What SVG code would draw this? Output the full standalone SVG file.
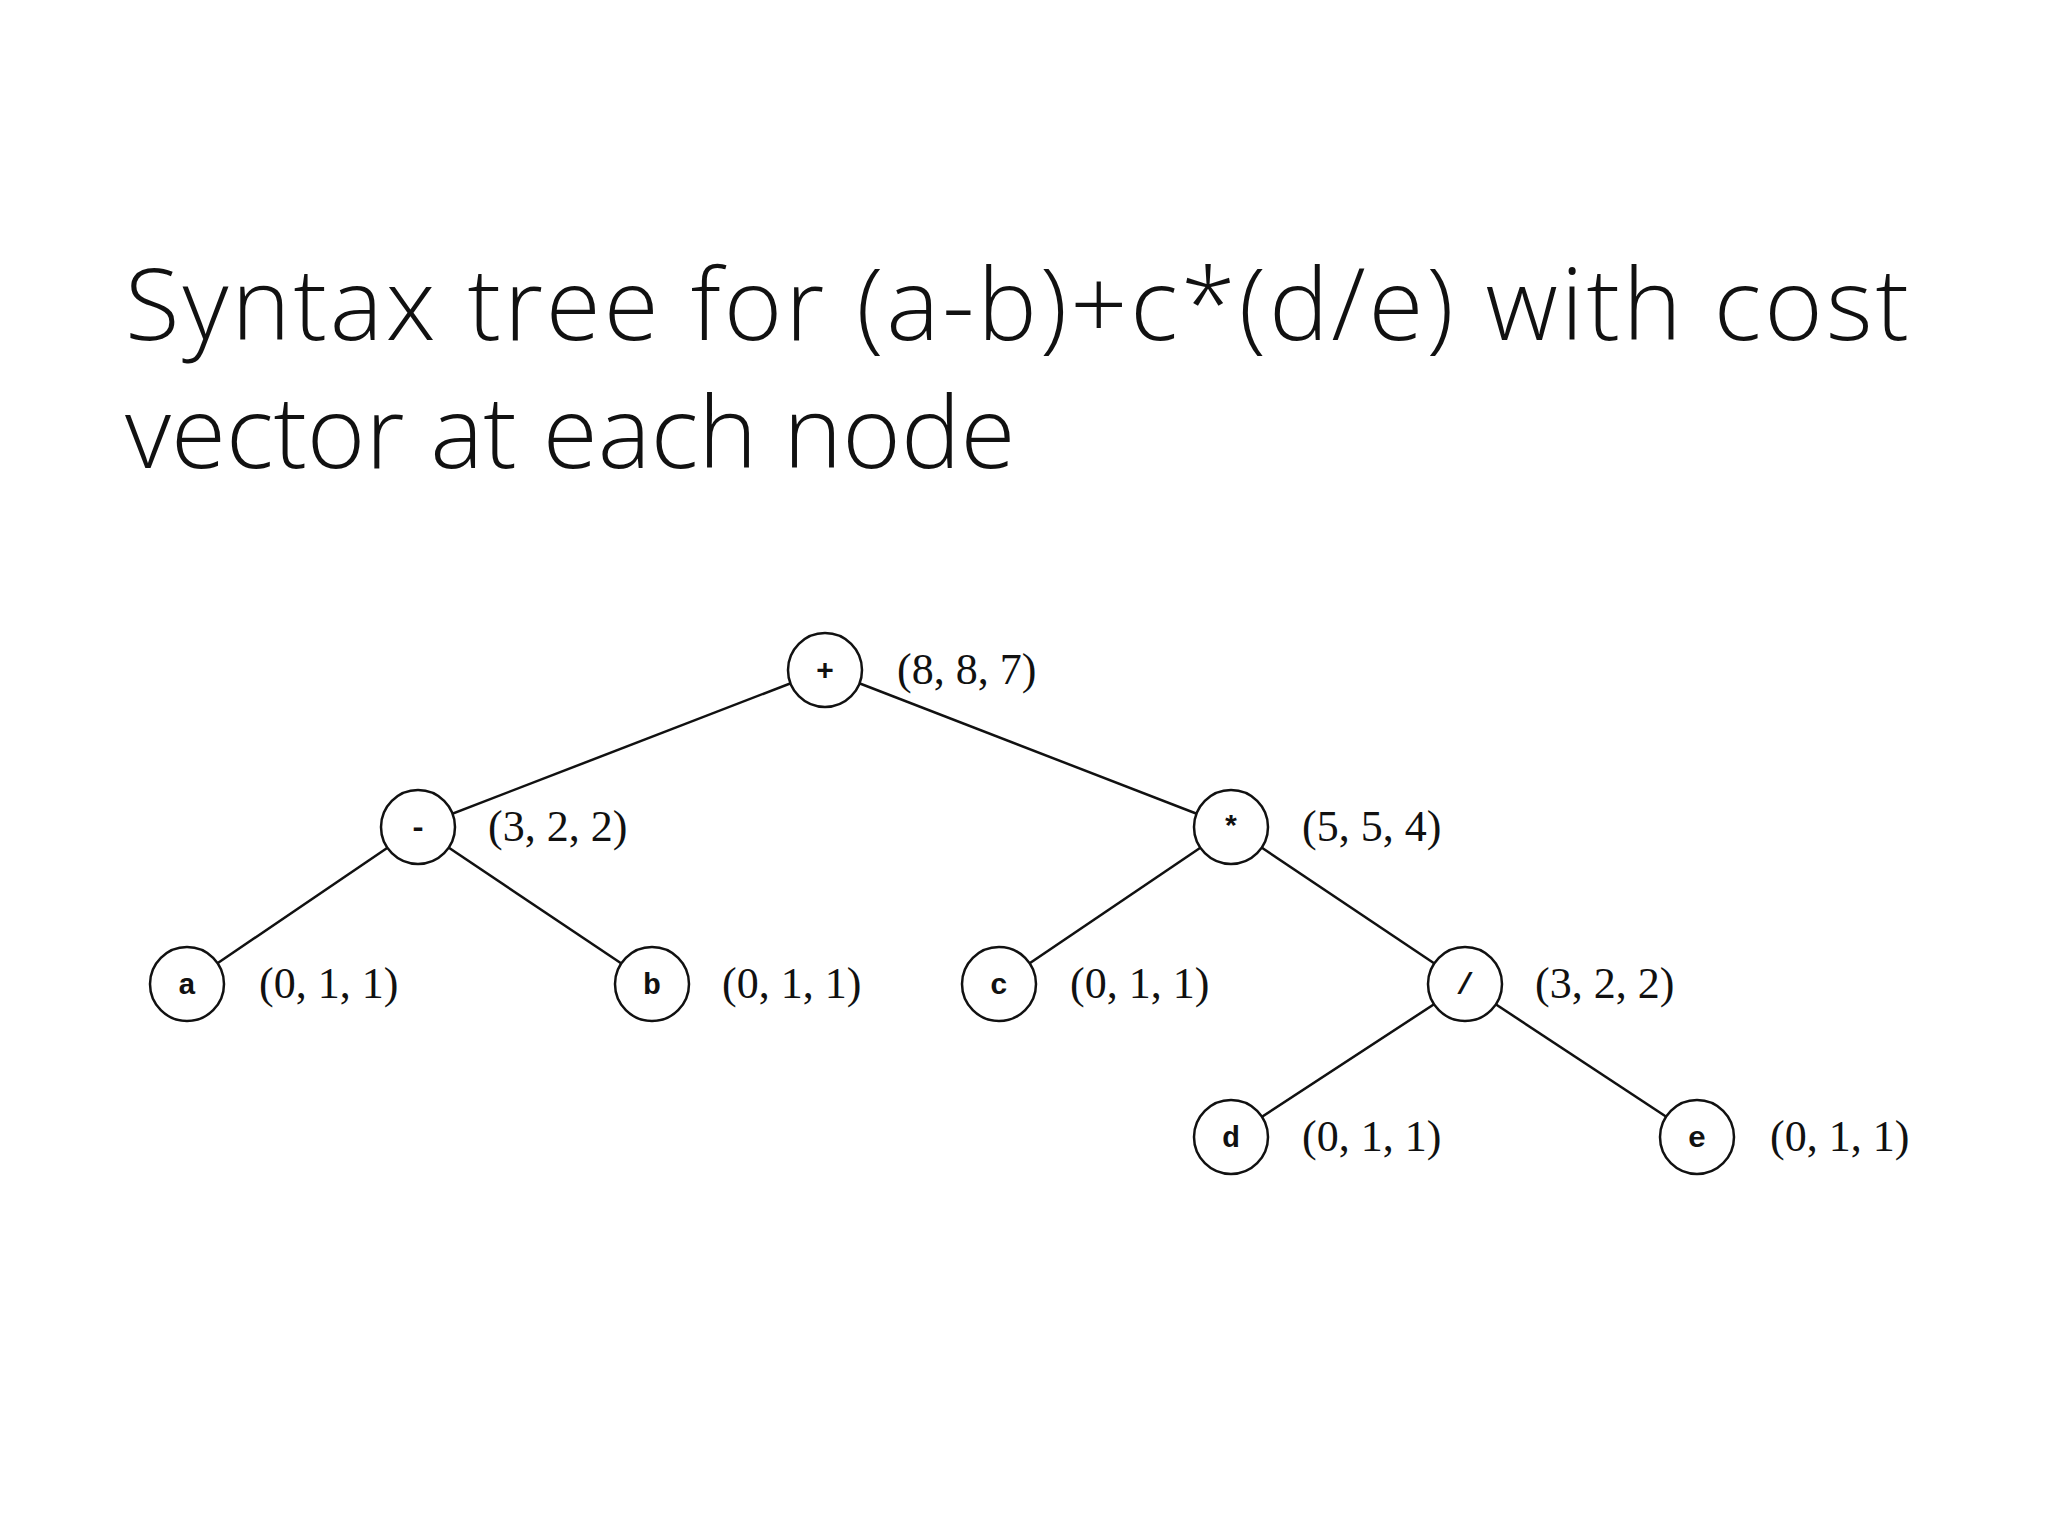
<svg xmlns="http://www.w3.org/2000/svg" width="2048" height="1536" viewBox="0 0 2048 1536">
<style>
.t{font-family:"Open Sans","Liberation Sans",sans-serif;font-weight:300;font-size:100px;fill:#111}
.n circle{fill:#fff;stroke:#111;stroke-width:2.5}
.n text.s{font-family:"Liberation Mono",monospace;font-weight:bold;font-size:30px;text-anchor:middle;fill:#111}
.n text.l{font-family:"Liberation Serif",serif;font-size:44px;fill:#111}
#edges line{stroke:#111;stroke-width:2.5}
</style>
<rect width="2048" height="1536" fill="#fff"/>
<text class="t" x="125" y="340" textLength="1784">Syntax tree for (a-b)+c*(d/e) with cost</text>
<text class="t" x="125" y="468">vector at each node</text>
<g id="edges">
<line x1="825" y1="670" x2="418" y2="827"/>
<line x1="825" y1="670" x2="1231" y2="827"/>
<line x1="418" y1="827" x2="187" y2="984"/>
<line x1="418" y1="827" x2="652" y2="984"/>
<line x1="1231" y1="827" x2="999" y2="984"/>
<line x1="1231" y1="827" x2="1465" y2="984"/>
<line x1="1465" y1="984" x2="1231" y2="1137"/>
<line x1="1465" y1="984" x2="1697" y2="1137"/>
</g>
<g id="plus" class="n"><circle cx="825" cy="670" r="37"/><text class="s" x="825" y="680">+</text><text class="l" x="897" y="684">(8, 8, 7)</text></g>
<g id="minus" class="n"><circle cx="418" cy="827" r="37"/><text class="s" x="418" y="837">-</text><text class="l" x="488" y="841">(3, 2, 2)</text></g>
<g id="times" class="n"><circle cx="1231" cy="827" r="37"/><text class="s" x="1231" y="837">*</text><text class="l" x="1302" y="841">(5, 5, 4)</text></g>
<g id="a" class="n"><circle cx="187" cy="984" r="37"/><text class="s" x="187" y="994">a</text><text class="l" x="259" y="998">(0, 1, 1)</text></g>
<g id="b" class="n"><circle cx="652" cy="984" r="37"/><text class="s" x="652" y="994">b</text><text class="l" x="722" y="998">(0, 1, 1)</text></g>
<g id="c" class="n"><circle cx="999" cy="984" r="37"/><text class="s" x="999" y="994">c</text><text class="l" x="1070" y="998">(0, 1, 1)</text></g>
<g id="div" class="n"><circle cx="1465" cy="984" r="37"/><text class="s" x="1465" y="994">/</text><text class="l" x="1535" y="998">(3, 2, 2)</text></g>
<g id="d" class="n"><circle cx="1231" cy="1137" r="37"/><text class="s" x="1231" y="1147">d</text><text class="l" x="1302" y="1151">(0, 1, 1)</text></g>
<g id="e" class="n"><circle cx="1697" cy="1137" r="37"/><text class="s" x="1697" y="1147">e</text><text class="l" x="1770" y="1151">(0, 1, 1)</text></g>
</svg>
